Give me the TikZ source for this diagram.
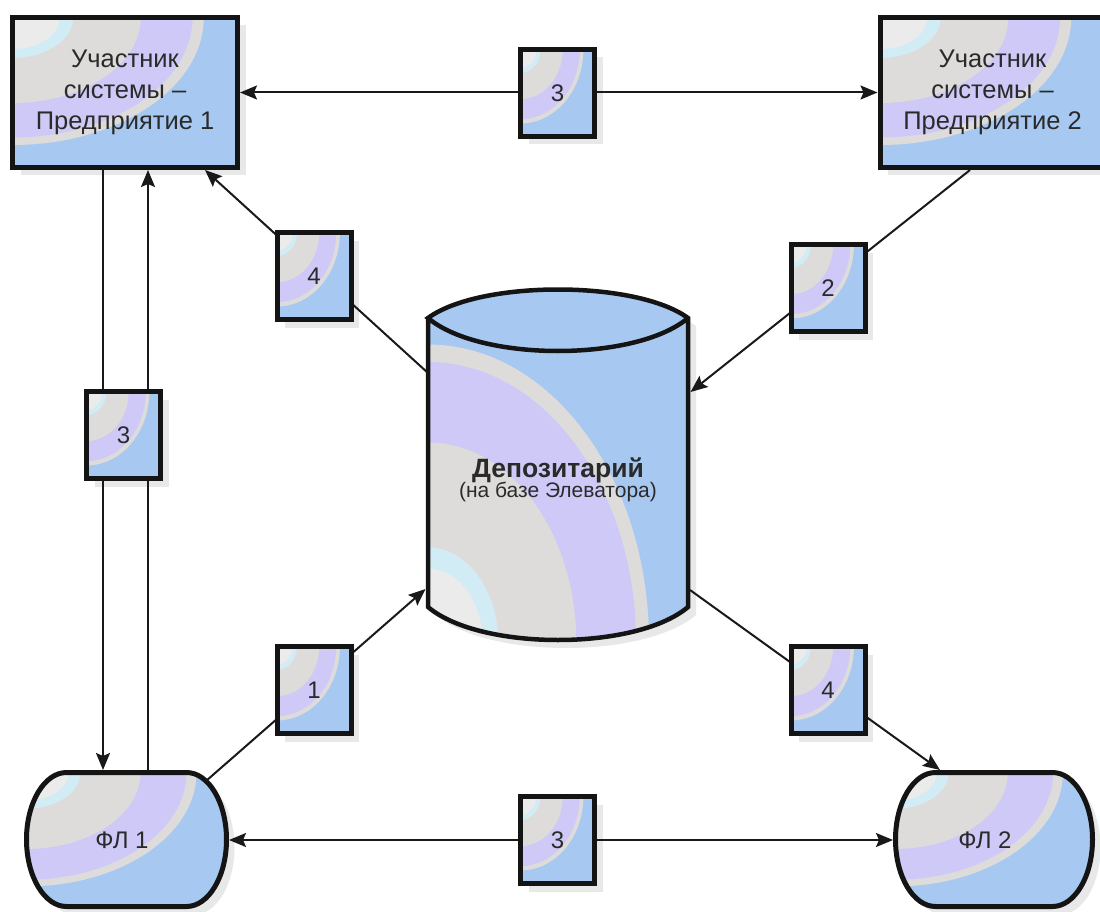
\documentclass[tikz,border=0pt]{standalone}
\usepackage{fontspec}
\setmainfont{Liberation Sans}
\usetikzlibrary{arrows.meta}
\definecolor{cB}{HTML}{A7C8F0}
\definecolor{cG}{HTML}{DEDCDA}
\definecolor{cL}{HTML}{CEC9F6}
\definecolor{cC}{HTML}{D2ECF6}
\definecolor{cW}{HTML}{EBEBEB}
\definecolor{shd}{HTML}{E8E8E8}
\definecolor{txt}{HTML}{2A2A2A}
\newcommand\bandfill[4]{%
  \fill[cB] (#1,#2) ellipse[x radius={2*(#3)}, y radius={2*(#4)}];
  \fill[cG] (#1,#2) ellipse[x radius={0.85*(#3)}, y radius={0.85*(#4)}];
  \fill[cL] (#1,#2) ellipse[x radius={0.80*(#3)}, y radius={0.80*(#4)}];
  \fill[cG] (#1,#2) ellipse[x radius={0.57*(#3)}, y radius={0.57*(#4)}];
  \fill[cC] (#1,#2) ellipse[x radius={0.27*(#3)}, y radius={0.27*(#4)}];
  \fill[cW] (#1,#2) ellipse[x radius={0.21*(#3)}, y radius={0.21*(#4)}];}
\newcommand\rectfill[4]{\begin{scope}\clip (#1,#2) rectangle (#3,#4);
  \bandfill{#1}{#2}{(#3)-(#1)}{(#4)-(#2)}\end{scope}}
\newcommand\rectshadow[4]{\fill[shd] ({#1+8},{#2+8}) rectangle ({#3+8},{#4+8});}
\newcommand\flpath[2]{({#1+40},772.5) -- ({#2-40},772.5)
  arc[start angle=90, end angle=-90, x radius=40pt, y radius=67pt]
  -- ({#1+40},906.5)
  arc[start angle=270, end angle=90, x radius=40pt, y radius=67pt] -- cycle}
\begin{document}
\begin{tikzpicture}[x=1pt,y=-1pt,
  >={Stealth[length=17pt,width=14pt,inset=3pt]},
  conn/.style={line width=2pt, draw=black!90},
  border/.style={draw=black!92, line width=5pt},
  bigbox/.style={border, rectangle, minimum width=225pt, minimum height=150pt,
    inner sep=0pt, align=center, text=txt, font=\fontsize{25.5}{31}\selectfont},
  sqbox/.style={border, rectangle, minimum width=74pt, minimum height=87pt,
    inner sep=0pt, text=txt, font=\fontsize{24}{28}\selectfont},
  lbl/.style={text=txt, align=center, inner sep=0pt}]
\useasboundingbox (0,0) rectangle (1100,912);
% shadows
\rectshadow{12.5}{17.5}{237.5}{167.5}
\rectshadow{880}{17.5}{1105}{167.5}
\begin{scope}[shift={(8,8)}]
  \fill[shd] \flpath{26.5}{226.5};
  \fill[shd] \flpath{895.5}{1092.5};
  \fill[shd] (428,318) -- (428,607) .. controls (480,651) and (636,651) .. (688,607)
    -- (688,318) .. controls (636,280) and (480,280) .. (428,318) -- cycle;
\end{scope}
\foreach \x/\y in {557.5/93, 314/276, 828/288, 123.5/435, 314/690, 828/690, 557.5/840}
  {\rectshadow{\x-37}{\y-43.5}{\x+37}{\y+43.5}}
% big boxes
\rectfill{12.5}{17.5}{237.5}{167.5}
\node[bigbox] (box1) at (125,92.5) {Участник\\системы –\\Предприятие 1};
\rectfill{880}{17.5}{1105}{167.5}
\node[bigbox] (box2) at (992.5,92.5) {Участник\\системы –\\Предприятие 2};
% FL shapes
\begin{scope}\clip \flpath{26.5}{226.5}; \bandfill{26.5}{772.5}{200}{134}\end{scope}
\draw[border] \flpath{26.5}{226.5};
\node[lbl, font=\fontsize{24}{28}\selectfont] (fl1) at (122,840) {ФЛ 1};
\begin{scope}\clip \flpath{895.5}{1092.5}; \bandfill{895.5}{772.5}{197}{134}\end{scope}
\draw[border] \flpath{895.5}{1092.5};
\node[lbl, font=\fontsize{24}{28}\selectfont] (fl2) at (985,840) {ФЛ 2};
% cylinder
\begin{scope}
  \clip (428,318) -- (428,607) .. controls (480,651) and (636,651) .. (688,607)
    -- (688,318) .. controls (636,362) and (480,362) .. (428,318) -- cycle;
  \bandfill{428}{642}{260}{350}
\end{scope}
\fill[cB] (428,318) .. controls (480,280) and (636,280) .. (688,318)
  .. controls (636,362) and (480,362) .. (428,318) -- cycle;
\draw[border, line width=4.5pt, line join=miter] (428,318) -- (428,607)
  .. controls (480,651) and (636,651) .. (688,607) -- (688,318)
  .. controls (636,280) and (480,280) .. (428,318)
  .. controls (480,362) and (636,362) .. (688,318);
\node[lbl] (cyl) at (558,480) {{\fontsize{26.5}{30}\selectfont\bfseries Депозитарий}\\[-2pt]
  {\fontsize{21}{26}\selectfont (на базе Элеватора)}};
% connector end points
\coordinate (b1a) at (103,170);
\coordinate (b1b) at (148,170);
\coordinate (b1c) at (205,170);
\coordinate (b2a) at (970,170);
\coordinate (f1a) at (103,770);
\coordinate (f1b) at (148,770);
\coordinate (f1c) at (206,781);
\coordinate (f1r) at (229,840);
\coordinate (f2l) at (893,840);
\coordinate (f2t) at (940,770);
\coordinate (c4a) at (428,373);
\coordinate (c2) at (690.5,392);
\coordinate (c1) at (425.5,589);
\coordinate (c4b) at (690,590);
% connectors
\draw[conn,<->] (box1.east) -- (box2.west);
\draw[conn,->] (b1a) -- (f1a);
\draw[conn,->] (f1b) -- (b1b);
\draw[conn,->] (c4a) -- (b1c);
\draw[conn,->] (b2a) -- (c2);
\draw[conn,->] (f1c) -- (c1);
\draw[conn,->] (c4b) -- (f2t);
\draw[conn,<->] (f1r) -- (f2l);
% small squares
\foreach \n/\x/\y/\t in {sqT3/557.5/93/3, sq4a/314/276/4, sq2/828/288/2,
    sqL3/123.5/435/3, sq1/314/690/1, sq4b/828/690/4, sqB3/557.5/840/3}
  {\rectfill{\x-37}{\y-43.5}{\x+37}{\y+43.5}
   \node[sqbox] (\n) at (\x,\y) {\t};}
\end{tikzpicture}
\end{document}
